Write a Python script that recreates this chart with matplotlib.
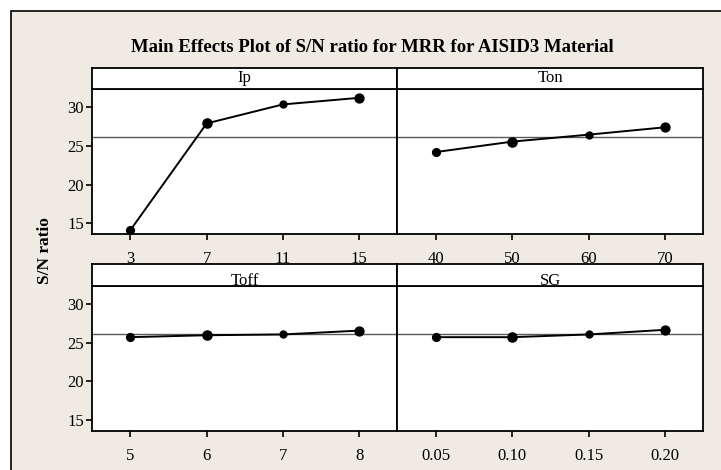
import matplotlib.pyplot as plt
from matplotlib.patches import Rectangle

plt.rcParams['font.family'] = 'Liberation Serif'

# data (S/N ratio, dB)
ip_levels = ['3', '7', '11', '15']
ip_sn = [14.15, 27.9, 30.35, 31.2]

ton_levels = ['40', '50', '60', '70']
ton_sn = [24.2, 25.55, 26.45, 27.4]

toff_levels = ['5', '6', '7', '8']
toff_sn = [25.7, 25.95, 26.05, 26.55]

sg_levels = ['0.05', '0.10', '0.15', '0.20']
sg_sn = [25.7, 25.7, 26.05, 26.65]

mean_sn = 26.1

W, H = 721, 470
fig = plt.figure(figsize=(W / 100, H / 100), dpi=100)
fig.patch.set_facecolor('white')

# beige frame round the whole plot
frame = Rectangle((10.7 / W, -0.1), 1.2, 1 - 10.7 / H + 0.1, transform=fig.transFigure,
                  facecolor='#efebe2', edgecolor='black', linewidth=1.2, zorder=-5)
fig.patches.append(frame)

fig.text(372 / W, 1 - 48 / H, 'Main Effects Plot of S/N ratio for MRR for AISID3 Material',
         ha='center', va='center', fontsize=13.5, fontweight='bold')
fig.text(45 / W, 1 - 251 / H, 'S/N ratio', rotation=90, ha='center', va='center',
         fontsize=12.5, fontweight='bold')

def px_box(x0, x1, y0, y1):
    return [x0 / W, 1 - y1 / H, (x1 - x0) / W, (y1 - y0) / H]

panels = [
    ('Ip', ip_levels, ip_sn, 92.3, 397.3, 89.3, 234.3, 67.7, True),
    ('Ton', ton_levels, ton_sn, 397.3, 703.3, 89.3, 234.3, 67.7, False),
    ('Toff', toff_levels, toff_sn, 92.3, 397.3, 286, 431, 263.5, True),
    ('SG', sg_levels, sg_sn, 397.3, 703.3, 286, 431, 263.5, False),
]
msizes = [5.6, 6.6, 5.0, 6.4]

for name, levels, vals, x0, x1, y0, y1, hy, left in panels:
    ax = fig.add_axes(px_box(x0, x1, y0, y1))
    ax.set_facecolor('white')
    xs = list(range(len(levels)))
    ax.axhline(mean_sn, color='#5a5a5a', linewidth=1.0, zorder=1)
    ax.plot(xs, vals, color='black', linewidth=1.4, zorder=2)
    for x, v, ms in zip(xs, vals, msizes):
        ax.plot(x, v, 'o', color='black', markersize=ms, zorder=3)
    ax.set_xlim(-0.5, len(levels) - 0.5)
    ax.set_ylim(13.6, 32.3)
    ax.set_xticks(xs)
    ax.set_xticklabels(levels)
    ax.set_yticks([15, 20, 25, 30])
    ax.tick_params(axis='x', direction='out', length=4, width=1.2, labelsize=12, pad=8)
    ax.tick_params(axis='y', direction='out', length=4, width=1.2, labelsize=12, pad=2)
    if not left:
        ax.tick_params(axis='y', left=False, labelleft=False)
    for s in ax.spines.values():
        s.set_linewidth(1.3)

# header strips, added after so they sit on top of the tick labels above them
for name, levels, vals, x0, x1, y0, y1, hy, left in panels:
    hax = fig.add_axes(px_box(x0, x1, hy, y0))
    hax.set_facecolor('white')
    hax.set_xticks([])
    hax.set_yticks([])
    for s in hax.spines.values():
        s.set_linewidth(1.3)
    ty = 0.5 if hy < 100 else 0.22
    hax.text(0.5, ty, name, ha='center', va='center', fontsize=12, transform=hax.transAxes)

fig.savefig('out.png', dpi=100, facecolor=fig.get_facecolor())
